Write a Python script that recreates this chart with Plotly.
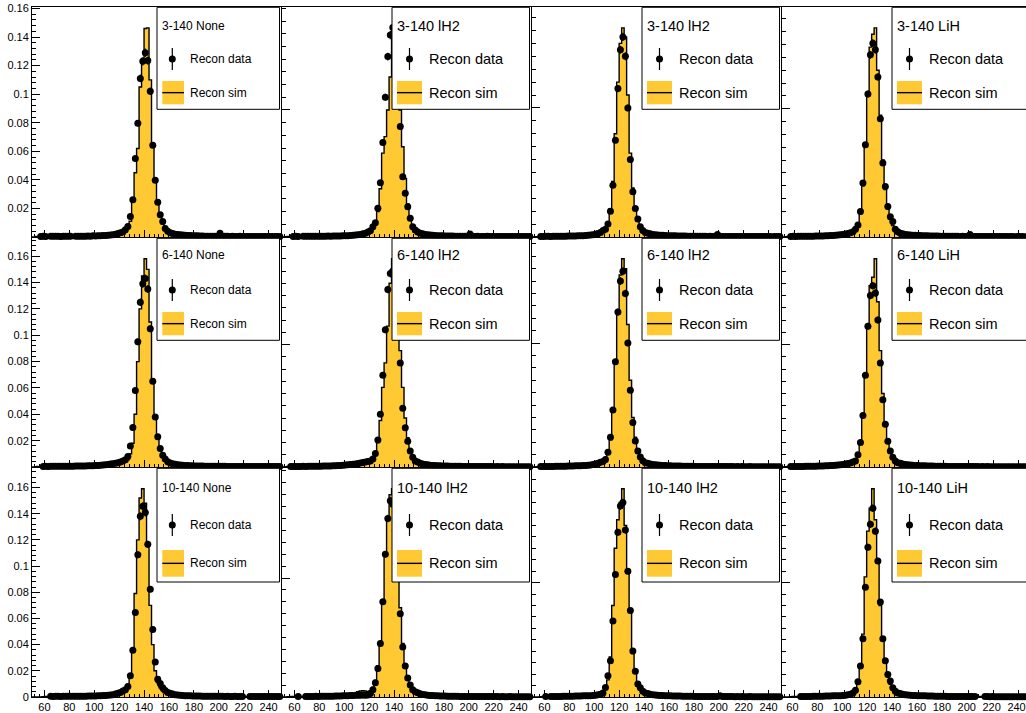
import math
import plotly.graph_objects as go

W, H = 1026, 713
YELLOW = "#FFC933"
FONT = "Liberation Sans, Arial, sans-serif"

# 100 bins of 2 MeV/c between 50 and 250
edges = list(range(50, 252, 2))
centres = [e + 1 for e in edges[:-1]]

# Fractions (in percent) per bin, listed from the 50-52 bin upwards.
# ---- absorber 3-140 ----
data_3_none = [
    0, 0, 0, .04, .05, .04, 0, .05, .06, .05,
    .05, .04, .06, .05, .05, .06, 0, .05, .06, .05,
    .06, .05, .07, .06, .08, .07, .08, .09, .1, .11,
    .12, .14, .16, .2, .25, .3, .35, .5, .73, 1.43,
    2.6, 5.5, 7.96, 11.1, 12.3, 12.9, 12.35, 10.2, 6.43, 3.97,
    2.44, 1.55, 1.08, .6, .4, .3, .25, .2, .18, .15,
    .14, .12, .1, .1, .09, .08, .08, .07, .07, .06,
    .06, .05, .06, .05, .05, .26, .04, .05, .05, .04,
    .05, .04, .04, .05, .03, .04, .04, .03, .04, .03,
    .04, .03, .04, .03, .03, .04, .03, .03, .04, .03]
sim_3_none = [
    0, .03, .04, .04, .05, .05, .05, .05, .05, .05,
    .05, .05, .05, .05, .05, .05, .05, .06, .06, .06,
    .06, .06, .07, .07, .08, .08, .09, .1, .1, .12,
    .13, .15, .17, .19, .22, .25, .28, .35, .6, 1.1,
    2.5, 4.5, 6.2, 10.5, 12.5, 14.6, 14.64, 11, 6.5, 4.0,
    2.5, 1.5, .9, .6, .4, .3, .25, .2, .18, .15,
    .13, .12, .1, .1, .09, .08, .08, .07, .07, .06,
    .06, .06, .05, .05, .05, .05, .05, .05, .05, .04,
    .04, .04, .04, .04, .04, .04, .04, .04, .04, .04,
    .04, .03, .04, .04, .03, .04, .03, .04, .03, .03]

data_3_ih2a = [
    0, 0, 0, 0, .04, .05, .04, 0, .05, .05,
    .05, .06, .05, .05, .06, .05, .06, .06, .07, .06,
    .07, .07, .08, .08, .09, .1, .1, .12, .13, .15,
    .17, .2, .25, .3, .4, .5, .8, 1.13, 2.26, 4.28,
    7.43, 11.0, 14.2, 15.9, 16.5, 16.0, 12.5, 8.69, 4.75, 3.44,
    2.39, 1.47, .81, .55, .4, .3, .25, .2, .18, .15,
    .13, .12, .1, .1, .09, .08, .08, .07, .07, .06,
    .06, .06, .05, .05, .05, .24, .05, .04, .05, .04,
    .04, .04, .05, .04, .04, .03, .04, .04, .03, .04,
    .03, .04, .03, .03, .04, .03, .03, .03, .04, .03]
sim_3_ih2a = [
    0, .03, .04, .04, .05, .05, .05, .05, .05, .06,
    .05, .06, .06, .06, .06, .06, .07, .07, .07, .08,
    .08, .09, .09, .1, .1, .11, .12, .13, .15, .17,
    .19, .22, .26, .3, .35, .45, .6, 1.0, 2.0, 3.8,
    6.6, 7.9, 10.0, 12.6, 16.46, 15.5, 12.0, 10.0, 7.1, 4.6,
    2.6, 1.5, .9, .6, .4, .3, .25, .2, .18, .15,
    .13, .12, .1, .1, .09, .08, .08, .07, .07, .06,
    .06, .06, .05, .05, .05, .05, .05, .05, .04, .04,
    .04, .04, .04, .04, .04, .04, .03, .04, .04, .03,
    .04, .03, .04, .03, .03, .04, .03, .03, .03, .03]

data_3_ih2b = [
    0, 0, 0, .04, .04, .05, .05, .04, .05, .05,
    .06, .05, .06, .06, .07, .07, .08, .08, .09, .1,
    .1, .12, .13, .15, .18, .22, .28, .35, .5, .6,
    1.0, 2.0, 4.0, 7.5, 11.5, 14.5, 15.5, 14.0, 10.0, 6.0,
    3.5, 2.2, 1.4, .8, .5, .35, .3, .25, .2, .18,
    .16, .14, .13, .12, .1, .1, .09, .09, .08, .08,
    .07, .07, .06, .06, .06, .05, .05, .05, .05, .05,
    .04, .05, .04, .05, .2, .04, .04, .04, .04, .04,
    .04, .03, .04, .03, .04, .03, .03, .04, .03, .03,
    .03, .03, .04, .03, .03, .03, .02, .03, .03, .03]
sim_3_ih2b = [
    0, .03, .03, .04, .04, .04, .05, .05, .05, .05,
    .05, .06, .06, .06, .07, .07, .08, .08, .09, .1,
    .11, .12, .14, .16, .19, .23, .29, .37, .45, .6,
    1.1, 2.2, 4.3, 8.0, 12.0, 15.0, 16.2, 15.5, 11.0, 6.5,
    3.8, 2.3, 1.4, .8, .5, .35, .3, .25, .2, .18,
    .16, .14, .13, .12, .1, .1, .09, .09, .08, .08,
    .07, .07, .06, .06, .06, .05, .05, .05, .05, .05,
    .05, .05, .04, .04, .04, .04, .04, .04, .04, .04,
    .04, .04, .03, .04, .03, .04, .03, .03, .03, .03,
    .03, .03, .03, .03, .03, .03, .03, .03, .03, .03]

data_3_lih = [
    0, 0, 0, .04, .05, .04, .05, .05, .05, .06,
    .05, .06, .06, .07, .07, .08, .08, .09, .1, .11,
    .12, .13, .15, .17, .2, .24, .28, .33, .4, .6,
    .94, 1.98, 4.2, 7.19, 11.15, 14.2, 15.1, 14.6, 12.48, 9.22,
    5.76, 3.93, 2.37, 1.58, 1.2, .6, .4, .3, .25, .2,
    .18, .16, .14, .13, .12, .11, .1, .1, .09, .08,
    .08, .07, .07, .06, .06, .06, .05, .05, .05, .05,
    .05, .04, .05, .04, .04, .2, .04, .04, .04, .03,
    .04, .03, .04, .03, .03, .04, .03, .03, .03, .03,
    .03, .03, .03, .02, .03, .03, .03, .02, .03, .03]
sim_3_lih = [
    0, .03, .04, .04, .04, .05, .05, .05, .06, .06,
    .06, .06, .07, .07, .08, .08, .09, .1, .1, .11,
    .12, .13, .15, .17, .2, .24, .28, .33, .4, .5,
    .8, 1.8, 4.0, 7.2, 11.2, 14.8, 15.8, 16.3, 13.0, 9.5,
    6.0, 3.7, 2.2, 1.4, .9, .6, .4, .3, .25, .2,
    .18, .16, .14, .13, .12, .11, .1, .1, .09, .08,
    .08, .07, .07, .06, .06, .06, .05, .05, .05, .05,
    .05, .05, .04, .04, .04, .04, .04, .04, .04, .04,
    .04, .03, .04, .03, .03, .03, .03, .03, .03, .03,
    .03, .03, .03, .03, .03, .03, .03, .03, .03, .03]

# ---- absorber 6-140 ----
data_6_none = [
    0, 0, 0, 0, .04, .05, .04, .05, .05, .05,
    .05, .05, .06, .05, .06, .06, .06, .07, .07, .07,
    .08, .08, .09, .1, .1, .11, .12, .13, .15, .17,
    .19, .22, .25, .28, .32, .38, .45, .55, .8, 1.6,
    3.0, 5.8, 9.5, 12.5, 13.9, 14.3, 13.5, 10.5, 6.5, 3.8,
    2.3, 1.4, .9, .6, .4, .3, .25, .2, .18, .15,
    .13, .12, .11, .1, .09, .08, .08, .07, .07, .06,
    .06, .06, .05, .05, .05, .05, .05, .05, .04, .04,
    .04, .04, .04, .04, .04, .03, .04, .03, .04, .03,
    .03, .03, .03, .03, .03, .03, .03, .03, .03, .03]
sim_6_none = [
    0, .03, .04, .04, .04, .05, .05, .05, .05, .05,
    .05, .05, .06, .06, .06, .06, .07, .07, .07, .08,
    .08, .09, .09, .1, .11, .12, .13, .14, .16, .18,
    .2, .22, .25, .28, .32, .36, .4, .45, .55, 1.0,
    1.8, 4.0, 8.0, 12.0, 14.5, 15.8, 15.0, 11.0, 6.5, 3.8,
    2.2, 1.3, .8, .5, .35, .28, .24, .2, .17, .15,
    .13, .12, .11, .1, .09, .08, .08, .07, .07, .06,
    .06, .06, .05, .05, .05, .05, .05, .04, .04, .04,
    .04, .04, .04, .04, .03, .04, .03, .04, .03, .03,
    .03, .03, .03, .03, .03, .03, .03, .03, .03, .03]

data_6_ih2a = [
    0, 0, 0, .04, .05, .04, .05, .05, .06, .05,
    .06, .06, .06, .07, .07, .07, .08, .08, .09, .09,
    .1, .11, .12, .13, .14, .16, .18, .2, .22, .25,
    .28, .32, .36, .4, .45, .5, .65, 1.1, 2.2, 4.3,
    7.5, 11.2, 14.5, 15.8, 16.0, 15.0, 12.0, 8.5, 4.8, 3.2,
    2.1, 1.3, .8, .5, .4, .3, .25, .2, .18, .15,
    .13, .12, .11, .1, .09, .08, .08, .07, .07, .06,
    .06, .06, .05, .05, .05, .05, .05, .04, .04, .04,
    .04, .04, .04, .04, .04, .03, .04, .03, .04, .03,
    .03, .03, .03, .03, .03, .03, .03, .03, .03, .03]
sim_6_ih2a = [
    0, .03, .04, .04, .05, .05, .05, .05, .06, .06,
    .06, .06, .07, .07, .07, .08, .08, .09, .09, .1,
    .1, .11, .12, .13, .14, .16, .18, .2, .22, .25,
    .28, .32, .36, .4, .45, .5, .6, 1.0, 2.0, 3.8,
    6.5, 8.5, 11.5, 15.0, 17.0, 16.0, 12.5, 9.5, 6.5, 4.0,
    2.4, 1.4, .9, .5, .4, .3, .25, .2, .18, .15,
    .13, .12, .11, .1, .09, .08, .08, .07, .07, .06,
    .06, .06, .05, .05, .05, .05, .05, .04, .04, .04,
    .04, .04, .04, .04, .04, .03, .04, .03, .03, .03,
    .03, .03, .03, .03, .03, .03, .03, .03, .03, .03]

data_6_ih2b = [
    0, 0, 0, .04, .04, .05, .05, .05, .05, .06,
    .06, .06, .07, .07, .08, .08, .09, .1, .1, .11,
    .12, .13, .15, .17, .2, .24, .3, .38, .45, .6,
    1.2, 2.4, 4.6, 8.5, 12.5, 15.0, 15.8, 14.0, 10.0, 6.2,
    3.6, 2.1, 1.3, .8, .5, .35, .3, .25, .2, .18,
    .16, .14, .13, .12, .11, .1, .09, .09, .08, .08,
    .07, .07, .06, .06, .06, .05, .05, .05, .05, .05,
    .04, .05, .04, .05, .04, .04, .04, .04, .04, .04,
    .04, .03, .04, .03, .04, .03, .03, .04, .03, .03,
    .03, .03, .03, .03, .03, .03, .03, .03, .03, .03]
sim_6_ih2b = [
    0, .03, .03, .04, .04, .04, .05, .05, .05, .05,
    .06, .06, .06, .07, .07, .08, .08, .09, .1, .1,
    .11, .12, .14, .16, .19, .23, .29, .37, .45, .6,
    1.1, 2.2, 4.5, 8.5, 12.5, 15.5, 16.8, 16.0, 11.5, 7.0,
    4.0, 2.4, 1.4, .8, .5, .35, .3, .25, .2, .18,
    .16, .14, .13, .12, .11, .1, .09, .09, .08, .08,
    .07, .07, .06, .06, .06, .05, .05, .05, .05, .05,
    .05, .04, .04, .04, .04, .04, .04, .04, .04, .04,
    .04, .04, .03, .04, .03, .04, .03, .03, .03, .03,
    .03, .03, .03, .03, .03, .03, .03, .03, .03, .03]

data_6_lih = [
    0, 0, 0, .04, .04, .05, .05, .05, .05, .06,
    .06, .06, .07, .07, .08, .08, .09, .1, .11, .12,
    .13, .14, .16, .18, .2, .24, .28, .33, .4, .5,
    1.0, 2.0, 4.2, 7.5, 11.5, 14.0, 14.8, 14.2, 12.0, 8.5,
    5.5, 3.5, 2.1, 1.3, .8, .5, .35, .3, .25, .2,
    .18, .16, .14, .13, .12, .11, .1, .1, .09, .08,
    .08, .07, .07, .06, .06, .06, .05, .05, .05, .05,
    .05, .04, .05, .04, .04, .04, .04, .04, .04, .03,
    .04, .03, .04, .03, .03, .03, .03, .03, .03, .03,
    .03, .03, .03, .03, .03, .03, .03, .03, .03, .03]
sim_6_lih = [
    0, .03, .04, .04, .04, .05, .05, .05, .06, .06,
    .06, .07, .07, .08, .08, .09, .1, .1, .11, .12,
    .13, .14, .16, .18, .2, .24, .28, .33, .4, .5,
    .9, 2.0, 4.2, 7.5, 11.5, 14.8, 15.5, 17.0, 13.5, 9.5,
    6.0, 3.6, 2.2, 1.3, .8, .5, .35, .3, .25, .2,
    .18, .16, .14, .13, .12, .11, .1, .1, .09, .08,
    .08, .07, .07, .06, .06, .06, .05, .05, .05, .05,
    .05, .05, .04, .04, .04, .04, .04, .04, .04, .04,
    .04, .03, .04, .03, .03, .03, .03, .03, .03, .03,
    .03, .03, .03, .03, .03, .03, .03, .03, .03, .03]

# ---- absorber 10-140 ----
data_10_none = [
    0, 0, 0, 0, 0, 0, 0, .05, .04, .05,
    .05, .04, .05, .05, .06, .05, .05, .06, .05, .06,
    .06, .06, .07, .07, .08, .08, .09, .1, .11, .12,
    .14, .16, .18, .22, .28, .35, .45, .55, .8, 1.62,
    3.58, 6.45, 10.87, 13.8, 14.56, 14.1, 11.66, 8.23, 5.16, 2.67,
    1.35, 1.04, .7, .5, .35, .28, .22, .18, .15, .13,
    .12, .1, .1, .09, .08, .08, .07, .07, .06, .06,
    .06, .05, .05, .05, .05, .06, .05, .04, .05, .04,
    .04, .05, .04, .04, .04, 0, 0, .04, .04, .03,
    .03, .04, .03, .03, .04, .03, .03, .03, .03, .03]
sim_10_none = [
    0, 0, 0, 0, .03, .04, .04, .04, .05, .05,
    .05, .05, .05, .05, .05, .06, .06, .06, .06, .06,
    .07, .07, .07, .08, .08, .09, .1, .11, .12, .13,
    .15, .17, .2, .24, .3, .38, .45, .6, .9, 1.5,
    3.6, 7.9, 12.0, 15.2, 15.9, 14.8, 11.5, 7.0, 4.0, 2.0,
    1.1, .7, .45, .35, .28, .22, .18, .15, .13, .12,
    .11, .1, .09, .08, .08, .07, .07, .06, .06, .06,
    .05, .05, .05, .05, .05, .05, .05, .04, .04, .04,
    .04, .04, .04, .04, .04, .04, .04, .03, .03, .03,
    .03, .03, .03, .03, .03, .03, .03, .03, .03, .03]

data_10_ih2a = [
    0, 0, 0, 0, 0, 0, .05, 0, 0, .05,
    .05, .05, .05, .06, .05, .06, .06, .06, .07, .07,
    .07, .08, .08, .09, .1, .1, .11, .12, .13, .14,
    .15, .15, .16, .15, .16, .3, .6, 1.2, 2.4, 4.5,
    8.0, 12.0, 15.0, 16.5, 16.2, 14.0, 10.5, 7.0, 4.2, 2.6,
    1.6, 1.0, .6, .45, .35, .28, .22, .18, .15, .13,
    .12, .1, .1, .09, .08, .08, .07, .07, .06, .06,
    .06, .05, .05, .05, .05, .05, .05, .04, .05, .04,
    .04, .04, .04, .04, .04, .04, .04, .03, .04, .03,
    .03, .04, .03, .03, .03, .03, .03, .03, .03, .03]
sim_10_ih2a = [
    0, 0, .03, .04, .04, .04, .05, .05, .05, .05,
    .05, .06, .06, .06, .06, .07, .07, .07, .08, .08,
    .09, .09, .1, .11, .12, .13, .15, .17, .2, .25,
    .45, .5, .52, .5, .45, .5, .8, 1.4, 2.6, 4.5,
    8.0, 12.0, 15.0, 17.0, 17.5, 15.0, 11.0, 7.5, 4.5, 2.8,
    1.7, 1.0, .6, .45, .35, .28, .22, .18, .15, .13,
    .12, .1, .1, .09, .08, .08, .07, .07, .06, .06,
    .06, .05, .05, .05, .05, .05, .05, .04, .04, .04,
    .04, .04, .04, .04, .04, .04, .04, .03, .04, .03,
    .03, .03, .03, .03, .03, .03, .03, .03, .03, .03]

data_10_ih2b = [
    0, 0, 0, 0, 0, .05, 0, .04, .05, .05,
    .05, .05, .06, .06, .06, .07, .07, .08, .08, .09,
    .1, .1, .11, .12, .14, .16, .2, .25, .35, .84,
    1.85, 3.16, 6.64, 10.7, 14.4, 16.7, 17.0, 14.6, 11.0, 7.57,
    4.03, 2.26, 1.13, .8, .5, .35, .3, .25, .2, .18,
    .16, .14, .13, .12, .11, .1, .09, .09, .08, .08,
    .07, .07, .06, .06, .06, .05, .05, .05, .05, .05,
    .04, .05, .04, .05, .04, .12, .04, .04, .04, .04,
    .04, .03, .04, .03, .04, .03, .03, .04, .03, .03,
    .03, .03, .03, .03, .03, .03, .03, .03, .03, .03]
sim_10_ih2b = [
    0, 0, 0, .03, .04, .04, .04, .05, .05, .05,
    .05, .06, .06, .06, .07, .07, .08, .08, .09, .09,
    .1, .11, .12, .13, .15, .17, .2, .3, .5, .9,
    1.5, 3.5, 8.0, 13.0, 15.5, 17.0, 18.2, 15.0, 11.0, 7.5,
    3.8, 2.2, 1.2, .7, .5, .35, .3, .25, .2, .18,
    .16, .14, .13, .12, .11, .1, .09, .09, .08, .08,
    .07, .07, .06, .06, .06, .05, .05, .05, .05, .05,
    .05, .04, .04, .04, .04, .04, .04, .04, .04, .04,
    .04, .04, .03, .04, .03, .04, .03, .03, .03, .03,
    .03, .03, .03, .03, .03, .03, .03, .03, .03, .03]

data_10_lih = [
    0, 0, 0, 0, 0, 0, 0, .05, .04, .05,
    .05, .05, .06, .06, .06, .07, .07, .08, .08, .09,
    .1, .1, .11, .12, .14, .16, .2, .25, .35, .6,
    1.33, 2.7, 5.1, 9.6, 13.1, 15.1, 16.5, 14.5, 11.9, 8.3,
    5.1, 3.16, 1.97, 1.4, .8, .5, .35, .3, .25, .2,
    .18, .16, .14, .13, .12, .11, .1, .1, .09, .08,
    .08, .07, .07, .06, .06, .06, .05, .05, .05, .05,
    .05, .04, .05, .04, .04, .04, .04, .04, 0, 0,
    0, .04, .04, .03, .04, .03, .03, .03, .03, .03,
    .03, .03, .03, .03, .03, .03, .03, .03, .03, .03]
sim_10_lih = [
    0, 0, 0, .03, .04, .04, .04, .05, .05, .05,
    .05, .06, .06, .06, .07, .07, .08, .08, .09, .09,
    .1, .11, .12, .13, .15, .17, .2, .3, .45, .6,
    1.2, 2.8, 5.5, 10.5, 14.5, 16.5, 18.2, 15.5, 12.0, 8.0,
    5.0, 3.0, 1.8, 1.1, .7, .5, .35, .3, .25, .2,
    .18, .16, .14, .13, .12, .11, .1, .1, .09, .08,
    .08, .07, .07, .06, .06, .06, .05, .05, .05, .05,
    .05, .05, .04, .04, .04, .04, .04, .04, .04, .04,
    .04, .03, .04, .03, .03, .03, .03, .03, .03, .03,
    .03, .03, .03, .03, .03, .03, .03, .03, .03, .03]

titles = [
    ["3-140 None", "3-140 lH2", "3-140 lH2", "3-140 LiH"],
    ["6-140 None", "6-140 lH2", "6-140 lH2", "6-140 LiH"],
    ["10-140 None", "10-140 lH2", "10-140 lH2", "10-140 LiH"],
]
data_rows = [
    [data_3_none, data_3_ih2a, data_3_ih2b, data_3_lih],
    [data_6_none, data_6_ih2a, data_6_ih2b, data_6_lih],
    [data_10_none, data_10_ih2a, data_10_ih2b, data_10_lih],
]
sim_rows = [
    [sim_3_none, sim_3_ih2a, sim_3_ih2b, sim_3_lih],
    [sim_6_none, sim_6_ih2a, sim_6_ih2b, sim_6_lih],
    [sim_10_none, sim_10_ih2a, sim_10_ih2b, sim_10_lih],
]
# events per sample, sets the size of the statistical error bars
n_events = [
    [15000, 15000, 15000, 15000],
    [15000, 15000, 15000, 15000],
    [15000, 15000, 15000, 15000],
]

# pad frames in pixels (left, right) / (top, bottom)
col_px = [(32, 281), (282, 531), (532, 781), (782, 1031)]
row_px = [(7, 237), (238, 467), (468, 697)]


def fx(px):
    return px / W


def fy(py):
    return 1 - py / H


fig = go.Figure()
shapes = []
annotations = []
layout_axes = {}

for r in range(3):
    for c in range(4):
        k = r * 4 + c + 1
        xa, ya = f"x{k}", f"y{k}"
        sim = [v / 100 for v in sim_rows[r][c]]
        dat = [v / 100 for v in data_rows[r][c]]
        n = n_events[r][c]

        fig.add_trace(go.Scatter(
            x=edges, y=sim + [sim[-1]], mode="lines",
            line=dict(shape="hv", color="black", width=1.4),
            fill="tozeroy", fillcolor=YELLOW,
            xaxis=xa, yaxis=ya, hoverinfo="skip", showlegend=False))

        xs = [cx for cx, v in zip(centres, dat) if v > 0]
        ys = [v for v in dat if v > 0]
        es = [math.sqrt(v / n) for v in ys]
        fig.add_trace(go.Scatter(
            x=xs, y=ys, mode="markers",
            marker=dict(color="black", size=7),
            error_y=dict(type="data", array=es, color="black", thickness=1.2, width=0),
            cliponaxis=False,
            xaxis=xa, yaxis=ya, hoverinfo="skip", showlegend=False))

        x0, x1 = col_px[c]
        y0, y1 = row_px[r]
        xr_end = 50 + 200 * (min(x1, W) - x0) / (x1 - x0)
        ymax = 1.1 * max(sim)

        xaxis = dict(
            domain=[fx(x0), fx(min(x1, W))], range=[50, xr_end], anchor=ya,
            showline=True, linecolor="black", linewidth=1, mirror=True,
            ticks="inside", ticklen=7, tickcolor="black", tickwidth=1,
            tickmode="linear", tick0=0, dtick=20,
            minor=dict(ticks="inside", ticklen=3.5, dtick=4, tick0=0, tickcolor="black"),
            showticklabels=(r == 2), tickfont=dict(family=FONT, size=11, color="black"),
            ticklabeloverflow="allow", automargin=False,
            ticklabelshift=(-2 if c == 3 else 0),
            showgrid=False, zeroline=False, fixedrange=True)
        if c == 0:
            vals = [0.02 * i for i in range(0 if r == 2 else 1, 9)]
            texts = ["0" if v == 0 else f"{v:.2f}".rstrip("0") for v in vals]
            yaxis = dict(tickmode="array", tickvals=vals, ticktext=texts,
                         minor=dict(ticks="inside", ticklen=4, tickmode="linear",
                                    tick0=0, dtick=0.004, tickcolor="black"),
                         showticklabels=True)
        else:
            yaxis = dict(tickmode="linear", tick0=0, dtick=0.1,
                         minor=dict(ticks="inside", ticklen=4, tickmode="linear",
                                    tick0=0, dtick=0.01, tickcolor="black"),
                         showticklabels=False)
        yaxis.update(
            domain=[fy(y1), fy(y0)], range=[0, ymax], anchor=xa,
            showline=True, linecolor="black", linewidth=1, mirror=(c != 3),
            ticks="inside", ticklen=8, tickcolor="black", tickwidth=1,
            tickfont=dict(family=FONT, size=11, color="black"),
            ticklabeloverflow="allow", automargin=False,
            showgrid=False, zeroline=False, fixedrange=True)
        sfx = "" if k == 1 else str(k)
        layout_axes["xaxis" + sfx] = xaxis
        layout_axes["yaxis" + sfx] = yaxis

        # legend box of each pad
        if c == 0:
            bl, tl, dx, lx, yb0, yb1, fs = x0 + 125, x0 + 128, x0 + 140.3, x0 + 155.7, x0 + 130.3, x0 + 152, 12
        else:
            bl, tl, dx, lx, yb0, yb1, fs = x0 + 110, x0 + 113, x0 + 127.5, x0 + 144.7, x0 + 115, x0 + 140, 14.5
        br = x1 - 1.5
        if r == 2:
            o = dict(bottom=114, title=20, data=57, sim=95, bt=82, bb=108.7, err=11)
        elif r == 1:
            o = dict(bottom=102.3, title=16.5, data=52, sim=86, bt=74, bb=97.3, err=11)
        else:
            o = dict(bottom=102.3, title=18.7, data=52, sim=86, bt=74, bb=97.3, err=11)
        shapes.append(dict(type="rect", xref="paper", yref="paper",
                           x0=fx(bl), x1=fx(br), y0=fy(y0 + o["bottom"]), y1=fy(y0 + 0.3),
                           fillcolor="white", line=dict(color="black", width=1), layer="above"))
        dy = y0 + o["data"]
        shapes.append(dict(type="line", xref="paper", yref="paper",
                           x0=fx(dx), x1=fx(dx), y0=fy(dy - o["err"]), y1=fy(dy + o["err"]),
                           line=dict(color="black", width=1.2), layer="above"))
        shapes.append(dict(type="circle", xref="paper", yref="paper",
                           x0=fx(dx - 3.5), x1=fx(dx + 3.5), y0=fy(dy + 3.5), y1=fy(dy - 3.5),
                           fillcolor="black", line=dict(color="black", width=0), layer="above"))
        shapes.append(dict(type="rect", xref="paper", yref="paper",
                           x0=fx(yb0), x1=fx(yb1), y0=fy(y0 + o["bb"]), y1=fy(y0 + o["bt"]),
                           fillcolor=YELLOW, line=dict(width=0), layer="above"))
        sy = y0 + (o["bt"] + o["bb"]) / 2
        shapes.append(dict(type="line", xref="paper", yref="paper",
                           x0=fx(yb0), x1=fx(yb1), y0=fy(sy), y1=fy(sy),
                           line=dict(color="black", width=1.4), layer="above"))
        for txt, tx, ty in ((titles[r][c], tl, y0 + o["title"]),
                            ("Recon data", lx, dy),
                            ("Recon sim", lx, y0 + o["sim"])):
            annotations.append(dict(text=txt, xref="paper", yref="paper",
                                    x=fx(tx), y=fy(ty), xanchor="left", yanchor="middle",
                                    showarrow=False,
                                    font=dict(family=FONT, size=fs, color="black")))

fig.update_layout(
    width=W, height=H, margin=dict(l=0, r=0, t=0, b=0, autoexpand=False),
    paper_bgcolor="white", plot_bgcolor="white",
    font=dict(family=FONT, color="black"),
    shapes=shapes, annotations=annotations, showlegend=False,
    **layout_axes)

fig.write_html("out.html", config={"displayModeBar": False})
